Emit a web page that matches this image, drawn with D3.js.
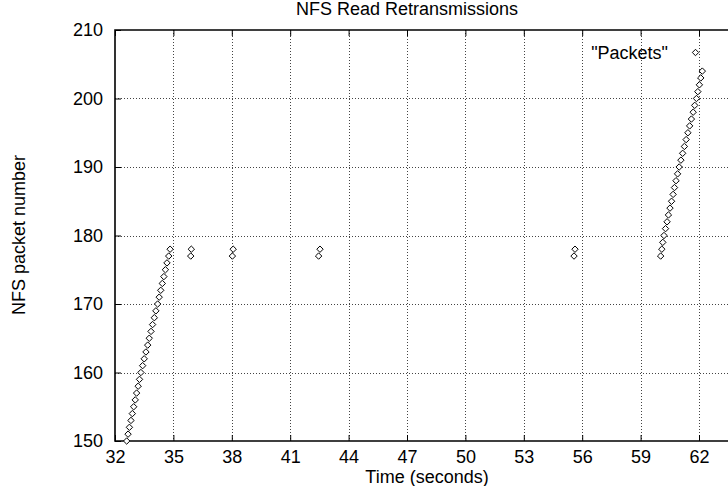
<!DOCTYPE html>
<html>
<head>
<meta charset="utf-8">
<script src="https://cdn.jsdelivr.net/npm/d3@7"></script>
<style>
  html, body { margin: 0; padding: 0; background: #fff; }
  svg { display: block; }
  text { font-family: "Liberation Sans", Arial, Helvetica, sans-serif; fill: #000; }
</style>
</head>
<body>
<svg id="chart" width="728" height="486"></svg>
<script>
// Packet numbers and the time (s) each NFS read packet was seen
const rampStartPackets = [150,151,152,153,154,155,156,157,158,159,160,161,162,163,164,165,166,167,168,169,170,171,172,173,174,175,176,177,178];
const rampStartTimes   = [32.60,32.67,32.74,32.82,32.89,32.96,33.04,33.11,33.19,33.26,33.33,33.42,33.50,33.59,33.68,33.76,33.85,33.93,34.02,34.10,34.19,34.27,34.35,34.43,34.51,34.59,34.67,34.76,34.83];

// Retransmitted pairs (packets 177 and 178)
const retransPackets = [177,178,177,178,177,178,177,178];
const retransTimes   = [35.89,35.92,38.03,38.07,42.46,42.53,55.58,55.63];

const rampEndPackets = [177,178,179,180,181,182,183,184,185,186,187,188,189,190,191,192,193,194,195,196,197,198,199,200,201,202,203,204];
const rampEndTimes   = [60.03,60.09,60.14,60.20,60.28,60.36,60.43,60.51,60.59,60.67,60.74,60.82,60.90,60.98,61.07,61.16,61.25,61.34,61.43,61.52,61.61,61.70,61.78,61.87,61.94,62.02,62.09,62.17];

const xTicks = [32,35,38,41,44,47,50,53,56,59,62];
const yTicks = [150,160,170,180,190,200,210];

const titleText = "NFS Read Retransmissions";
const xLabel = "Time (seconds)";
const yLabel = "NFS packet number";
const seriesName = "\"Packets\"";

const points = [];
rampStartPackets.forEach((p, i) => points.push({t: rampStartTimes[i], p}));
retransPackets.forEach((p, i) => points.push({t: retransTimes[i], p}));
rampEndPackets.forEach((p, i) => points.push({t: rampEndTimes[i], p}));

const svg = d3.select("#chart");
const plotLeft = 115, plotTop = 30, plotBottom = 441;
const x = d3.scaleLinear().domain([32, 62]).range([plotLeft, 699]);
const plotRight = x(64);
const y = d3.scaleLinear().domain([150, 210]).range([plotBottom, plotTop]);

const fontSize = 18;

// grid
const grid = svg.append("g").attr("stroke", "#444").attr("stroke-width", 1)
  .attr("stroke-dasharray", "1,2").attr("shape-rendering", "crispEdges");
xTicks.filter(v => v > 32).forEach(v => {
  grid.append("line").attr("x1", Math.round(x(v)) + 0.5).attr("x2", Math.round(x(v)) + 0.5)
    .attr("y1", plotTop).attr("y2", plotBottom);
});
yTicks.filter(v => v > 150 && v < 210).forEach(v => {
  grid.append("line").attr("y1", Math.round(y(v)) + 0.5).attr("y2", Math.round(y(v)) + 0.5)
    .attr("x1", plotLeft).attr("x2", plotRight);
});

// bottom axis with mirrored ticks on top
const xAxis = d3.axisBottom(x).tickValues(xTicks).tickSize(-6).tickPadding(9.5).tickFormat(d3.format("d"));
const gx = svg.append("g").attr("transform", `translate(0,${plotBottom})`).call(xAxis);
gx.select(".domain").remove();
gx.selectAll("text").attr("font-size", fontSize).attr("font-family", "Liberation Sans, Arial, sans-serif");
gx.selectAll("line").attr("stroke", "#000");

const gxTop = svg.append("g").attr("transform", `translate(0,${plotTop})`)
  .call(d3.axisTop(x).tickValues(xTicks).tickSize(-6).tickFormat(""));
gxTop.select(".domain").remove();
gxTop.selectAll("line").attr("stroke", "#000");

const yAxis = d3.axisLeft(y).tickValues(yTicks).tickSize(-6).tickPadding(12).tickFormat(d3.format("d"));
const gy = svg.append("g").attr("transform", `translate(${plotLeft},0)`).call(yAxis);
gy.select(".domain").remove();
gy.selectAll("text").attr("font-size", fontSize).attr("font-family", "Liberation Sans, Arial, sans-serif");
gy.selectAll("line").attr("stroke", "#000");

// border
svg.append("path")
  .attr("d", `M${plotRight},${plotTop}H${plotLeft}V${plotBottom}H${plotRight}`)
  .attr("fill", "none").attr("stroke", "#000").attr("stroke-width", 1.6);

// diamond markers
const diamond = (cx, cy, r) => `M${cx},${cy - r}L${cx + r},${cy}L${cx},${cy + r}L${cx - r},${cy}Z`;
svg.append("g").selectAll("path").data(points).join("path")
  .attr("d", d => diamond(x(d.t), y(d.p), 3.2))
  .attr("fill", "#fff").attr("stroke", "#000").attr("stroke-width", 1);

// key
svg.append("text").attr("x", 668).attr("y", 59).attr("text-anchor", "end")
  .attr("font-size", fontSize).text(seriesName);
svg.append("path").attr("d", diamond(695.5, 52.5, 3.2))
  .attr("fill", "#fff").attr("stroke", "#000").attr("stroke-width", 1);

// titles
svg.append("text").attr("x", 407).attr("y", 15).attr("text-anchor", "middle")
  .attr("font-size", fontSize).text(titleText);
svg.append("text").attr("x", 427).attr("y", 483).attr("text-anchor", "middle")
  .attr("font-size", fontSize).text(xLabel);
svg.append("text").attr("transform", `translate(25,235) rotate(-90)`).attr("text-anchor", "middle")
  .attr("font-size", fontSize).text(yLabel);
</script>
</body>
</html>
